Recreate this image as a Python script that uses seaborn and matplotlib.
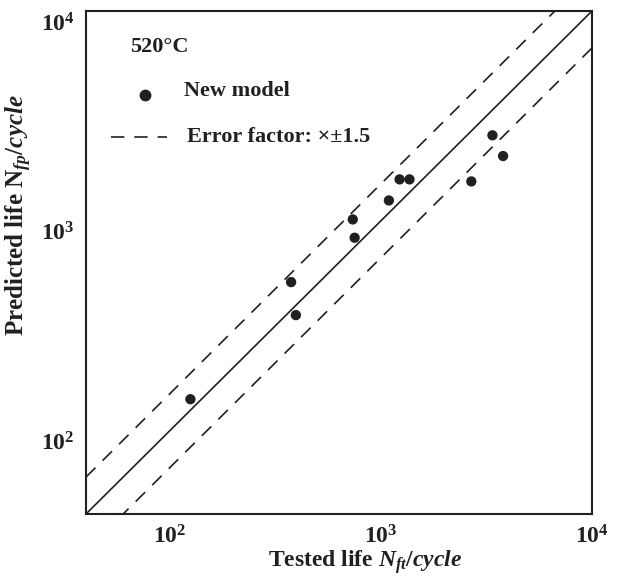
import matplotlib
matplotlib.use("Agg")
import matplotlib.pyplot as plt
import matplotlib.transforms as mtransforms
import seaborn as sns
import numpy as np
import pandas as pd
from matplotlib.lines import Line2D
from matplotlib.ticker import LogFormatterMathtext, NullLocator, FixedLocator

# ---- data ----
tested_life = [125, 375, 395, 735, 750, 1090, 1225, 1365, 2680, 3375, 3790]
predicted_life = [141, 510, 355, 1015, 830, 1250, 1575, 1575, 1540, 2555, 2035]
line_x = [40, 10000]
error_factor = 1.5
temperature_label = "520°C"
series_label = "New model"
band_label = "Error factor: ×±1.5"
major_ticks = [100, 1000, 10000]

sns.set_theme(style="white")
plt.rcParams['font.family'] = ['Liberation Serif', 'DejaVu Serif']
plt.rcParams['font.weight'] = 'bold'
plt.rcParams['mathtext.fontset'] = 'custom'
plt.rcParams['mathtext.rm'] = 'Liberation Serif:bold'
plt.rcParams['mathtext.bf'] = 'Liberation Serif:bold'
plt.rcParams['mathtext.it'] = 'Liberation Serif:italic:bold'

ink = '#231f20'

fig = plt.figure(figsize=(6.17, 5.80), dpi=100)
ax = fig.add_axes([86/617, 1-514/580, 506/617, 503/580])

df = pd.DataFrame({"tested": tested_life, "predicted": predicted_life})
lines = pd.DataFrame({
    "x": line_x * 3,
    "y": [v for v in line_x] + [v * error_factor for v in line_x] + [v / error_factor for v in line_x],
    "kind": ["mid"] * 2 + ["upper"] * 2 + ["lower"] * 2,
})

sns.lineplot(data=lines[lines.kind == "mid"], x="x", y="y", color=ink, lw=1.2, ax=ax)
sns.lineplot(data=lines[lines.kind == "upper"], x="x", y="y", color=ink, lw=1.2, ax=ax)
sns.lineplot(data=lines[lines.kind == "lower"], x="x", y="y", color=ink, lw=1.2, ax=ax)
for ln in ax.lines[1:]:
    ln.set_dashes((8, 6))

sns.scatterplot(data=df, x="tested", y="predicted", color=ink, s=55,
                edgecolor='none', ax=ax, zorder=5)

ax.set_xscale('log')
ax.set_yscale('log')
ax.set_xlim(40, 10000)
ax.set_ylim(40, 10000)

for axis in (ax.xaxis, ax.yaxis):
    axis.set_major_locator(FixedLocator(major_ticks))
    axis.set_minor_locator(NullLocator())
    axis.set_major_formatter(LogFormatterMathtext())

ax.tick_params(which='major', direction='in', length=9, width=1.3, color=ink,
               labelsize=17, labelcolor=ink, pad=8)
ax.tick_params(axis='y', pad=8)

# y tick labels sit slightly below their ticks in the reference
offset = mtransforms.ScaledTranslation(0, -8/72, fig.dpi_scale_trans)
for lab in ax.get_yticklabels():
    lab.set_transform(lab.get_transform() + offset)

for sp in ax.spines.values():
    sp.set_linewidth(1.5)
    sp.set_color(ink)

ax.set_xlabel("Tested life $N_{ft}$/$cycle$", fontsize=17, fontweight='bold', color=ink)
ax.set_ylabel("Predicted life N$_{fp}$/$cycle$", fontsize=18, fontweight='bold', color=ink)
ax.xaxis.set_label_coords(0.552, -0.068)
ax.yaxis.set_label_coords(-0.103, 0.594)

# legend block (drawn in axes fraction)
tr = ax.transAxes
ax.text(0.087, 0.928, temperature_label, transform=tr, fontsize=16,
        fontweight='bold', color=ink, ha='left', va='center')
ax.add_line(Line2D([0.1166], [0.833], ls='none', marker='o', color=ink,
                   markersize=7.5, transform=tr))
ax.text(0.194, 0.841, series_label, transform=tr, fontsize=16,
        fontweight='bold', color=ink, ha='left', va='center')
ax.add_line(Line2D([0.049, 0.160], [0.7495, 0.7495], ls=(0, (8, 6)), color=ink,
                   lw=1.2, transform=tr))
ax.text(0.1996, 0.7495, band_label, transform=tr, fontsize=16,
        fontweight='bold', color=ink, ha='left', va='center')

fig.savefig("out.png", dpi=100)
